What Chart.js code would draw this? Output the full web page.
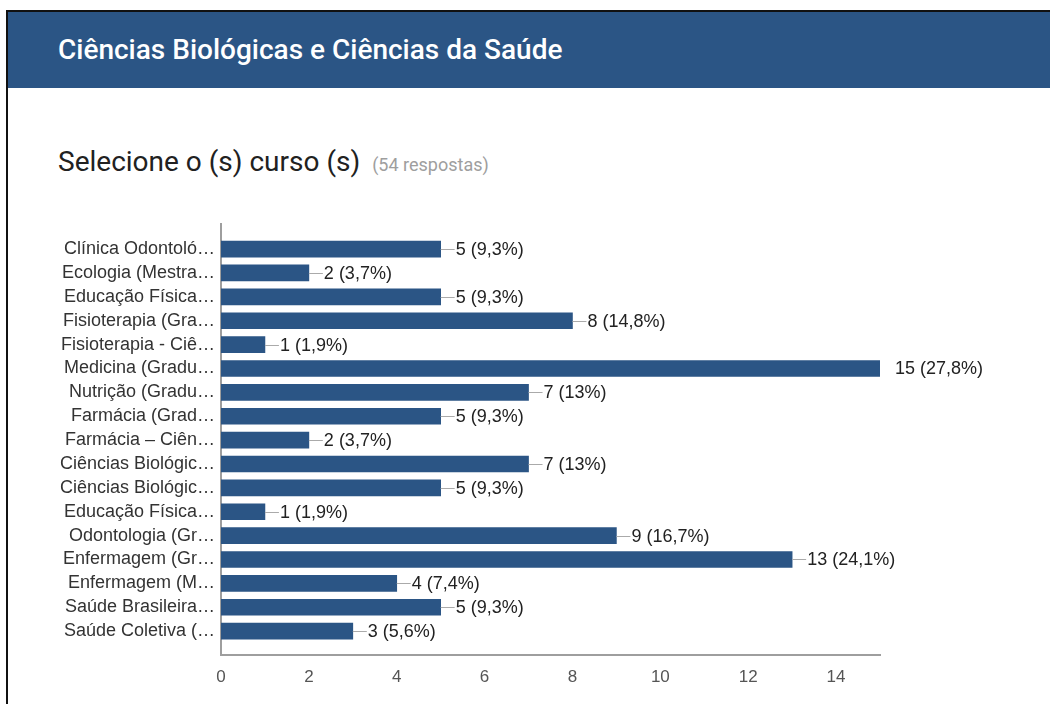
<!DOCTYPE html>
<html>
<head>
<meta charset="utf-8">
<script src="https://cdn.jsdelivr.net/npm/chart.js@4/dist/chart.umd.min.js"></script>
<style>
  body { margin: 0; background: #fff; width: 1050px; height: 704px; overflow: hidden; position: relative; }
  .frame { position: absolute; left: 6px; top: 10px; right: 0; bottom: 0; border-left: 2px solid #111; border-top: 2px solid #111; }
  .header { height: 76px; background: #2b5585; color: #fff; font-family: Roboto, sans-serif; font-weight: 500; font-size: 28px; line-height: 76px; padding-left: 50px; }
  .titulo { position: absolute; left: 58px; top: 145px; font-family: Roboto, sans-serif; font-size: 28px; color: #212121; }
  .titulo span { font-size: 18px; color: #9e9e9e; margin-left: 12px; }
  #wrap { position: absolute; left: 0; top: 200px; width: 1050px; height: 504px; }
</style>
</head>
<body>
<div class="frame">
  <div class="header">Ciências Biológicas e Ciências da Saúde</div>
</div>
<div class="titulo">Selecione o (s) curso (s)<span>(54 respostas)</span></div>
<div id="wrap"><canvas id="grafico"></canvas></div>
<script>
let cursos = [
    "Clínica Odontoló…",
    "Ecologia (Mestra…",
    "Educação Física…",
    "Fisioterapia (Gra…",
    "Fisioterapia - Ciê…",
    "Medicina (Gradu…",
    "Nutrição (Gradu…",
    "Farmácia (Grad…",
    "Farmácia – Ciên…",
    "Ciências Biológic…",
    "Ciências Biológic…",
    "Educação Física…",
    "Odontologia (Gr…",
    "Enfermagem (Gr…",
    "Enfermagem (M…",
    "Saúde Brasileira…",
    "Saúde Coletiva (…"
]
let respostas = [5, 2, 5, 8, 1, 15, 7, 5, 2, 7, 5, 1, 9, 13, 4, 5, 3]
let totalRespostas = 54
let xTicks = [0, 2, 4, 6, 8, 10, 12, 14]

function pct(v) {
    let p = (v / totalRespostas * 100).toFixed(1)
    if (p.endsWith(".0")) p = p.slice(0, -2)
    return p.replace(".", ",") + "%"
}

// rótulo "5 (9,3%)" com tracinho cinza na ponta da barra
let rotulos = {
    id: "rotulos",
    afterDatasetsDraw(chart) {
        let ctx = chart.ctx
        let meta = chart.getDatasetMeta(0)
        let xMax = chart.scales.x.max
        ctx.save()
        ctx.font = "18px 'Liberation Sans', Arial, sans-serif"
        ctx.textBaseline = "middle"
        ctx.textAlign = "left"
        meta.data.forEach(function (bar, i) {
            let v = respostas[i]
            let x = bar.x
            let y = Math.round(bar.y) + 0.5
            if (v < xMax) {
                ctx.strokeStyle = "#aaaaaa"
                ctx.lineWidth = 1
                ctx.beginPath()
                ctx.moveTo(x, y)
                ctx.lineTo(x + 14, y)
                ctx.stroke()
            }
            ctx.fillStyle = "#222"
            ctx.fillText(v + " (" + pct(v) + ")", x + 15, y + 1)
        })
        ctx.restore()
    }
}

let ctx = document.querySelector("#grafico").getContext("2d")
let chart = new Chart(ctx, {
    type: "bar",
    data: {
        datasets: [{
            data: respostas.map(function (v, i) { return { x: v, y: i } }),
            backgroundColor: "#2b5585",
            borderWidth: 0,
            barThickness: 16
        }]
    },
    options: {
        indexAxis: "y",
        responsive: true,
        maintainAspectRatio: false,
        animation: false,
        layout: { padding: { top: 24, right: 170, left: 0, bottom: 0 } },
        plugins: { legend: { display: false }, tooltip: { enabled: false } },
        scales: {
            x: {
                type: "linear",
                min: 0,
                max: 15,
                afterFit: function (s) { s.height = 49 },
                afterBuildTicks: function (s) { s.ticks = xTicks.map(function (v) { return { value: v } }) },
                grid: { display: false, drawTicks: false },
                border: { display: true, color: "#9e9e9e", width: 2 },
                ticks: {
                    padding: 12,
                    color: "#555",
                    font: { family: "'Liberation Sans', Arial, sans-serif", size: 17 }
                }
            },
            y: {
                type: "linear",
                min: -1.05,
                max: 17,
                offset: false,
                reverse: true,
                afterFit: function (s) { s.width = 221 },
                afterBuildTicks: function (s) { s.ticks = cursos.map(function (c, i) { return { value: i } }) },
                grid: { display: false, drawTicks: false },
                border: { display: true, color: "#9e9e9e", width: 2 },
                ticks: {
                    autoSkip: false,
                    padding: 6,
                    color: "#333",
                    font: { family: "'Liberation Sans', Arial, sans-serif", size: 18 },
                    callback: function (v) { return cursos[v] || "" }
                }
            }
        }
    },
    plugins: [rotulos]
})
</script>
</body>
</html>
